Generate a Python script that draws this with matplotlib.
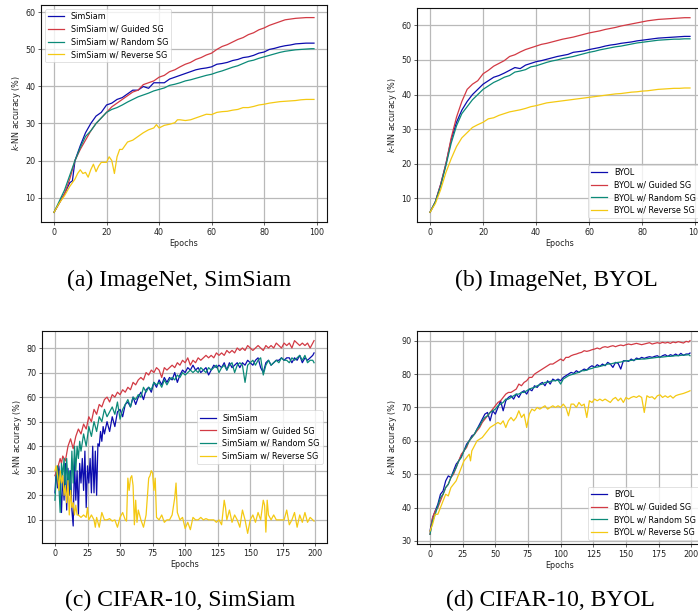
import matplotlib
matplotlib.use("Agg")
import matplotlib.pyplot as plt

# ---------------- data: (epoch, kNN accuracy %) ----------------
# (a) ImageNet, SimSiam
a_simsiam = [(0,6),(2,8.5),(4,11),(6,14),(7,14.5),(8,20),(10,24),(12,27.5),(14,30),(16,32),(18,33),(20,35),(22,35.5),(24,36.5),(26,37),(28,38),(30,39),(32,39),(34,40),(36,39.5),(38,41),(40,41),(42,41),(44,42),(46,42.5),(48,43),(50,43.5),(52,44),(54,44.5),(56,44.8),(58,45),(60,45.3),(62,46),(64,46.2),(66,46.5),(68,47),(70,47.3),(72,47.8),(74,48),(76,48.4),(78,49),(80,49.3),(82,50),(84,50.3),(86,50.7),(88,51),(90,51.2),(92,51.5),(94,51.6),(96,51.7),(98,51.7),(99,51.7)]
a_guided = [(0,6),(2,8.5),(4,11),(6,15),(8,20),(10,23),(12,25.5),(14,28),(16,30),(18,31.5),(20,33),(22,34.5),(24,35.5),(26,36.5),(28,37.5),(30,38.5),(32,39),(34,40.5),(36,41),(38,41.5),(40,42.5),(42,43),(44,44),(46,44.5),(48,45.3),(50,46),(52,46.5),(54,47.3),(56,47.8),(58,48.5),(60,49),(62,50),(64,50.8),(66,51.3),(68,52),(70,52.7),(72,53.2),(74,54),(76,54.5),(78,55.3),(80,55.8),(82,56.5),(84,57),(86,57.5),(88,58),(90,58.2),(92,58.4),(94,58.5),(96,58.6),(98,58.6),(99,58.6)]
a_random = [(0,6),(2,9),(4,12),(6,16),(8,20),(10,23.5),(12,26.5),(14,28),(16,30),(18,31.5),(20,33),(22,33.8),(24,34.3),(26,35),(28,35.8),(30,36.5),(32,37.2),(34,37.7),(36,38.2),(38,38.8),(40,39.2),(42,39.6),(44,40.3),(46,40.6),(48,41),(50,41.5),(52,41.8),(54,42.2),(56,42.6),(58,43),(60,43.3),(62,43.8),(64,44.2),(66,44.7),(68,45.2),(70,45.6),(72,46.2),(74,46.8),(76,47.1),(78,47.6),(80,48),(82,48.4),(84,48.8),(86,49.2),(88,49.5),(90,49.7),(92,49.9),(94,50),(96,50.1),(98,50.2),(99,50.2)]
a_reverse = [(0,6),(2,8.5),(4,10.5),(6,13),(8,15),(9,16.5),(10,17.5),(11,16.5),(12,16.8),(13,15.5),(14,17.5),(15,19),(16,17),(17,18.5),(18,19.5),(20,19.5),(21,21),(22,20),(23,16.5),(24,21),(25,23),(26,23),(28,25),(30,25.5),(32,26.5),(34,27.5),(36,28.3),(38,28.8),(39,29.7),(40,28.8),(42,29.5),(44,29.8),(46,30.2),(47,31),(48,31),(50,30.8),(52,31),(54,31.5),(56,32),(58,32.5),(60,32.4),(62,33),(64,33.2),(66,33.3),(68,33.6),(70,33.8),(72,34.3),(74,34.3),(76,34.6),(78,35),(80,35.2),(82,35.5),(84,35.7),(86,35.9),(88,36),(90,36.1),(92,36.2),(94,36.4),(96,36.5),(98,36.5),(99,36.5)]

# (b) ImageNet, BYOL
b_byol = [(0,6),(2,9),(4,14),(6,20),(8,27),(10,32),(12,35.5),(14,38),(16,40),(18,41.5),(20,43),(22,44),(24,45),(26,45.5),(28,46.2),(30,47),(32,47.8),(34,47.5),(36,48.5),(38,49),(40,49.5),(42,49.8),(44,50.2),(46,50.6),(48,51),(50,51.3),(52,51.6),(54,52.2),(56,52.4),(58,52.6),(60,53),(62,53.3),(64,53.6),(66,54),(68,54.3),(70,54.5),(72,54.8),(74,55),(76,55.2),(78,55.5),(80,55.7),(82,55.9),(84,56.1),(86,56.3),(88,56.4),(90,56.5),(92,56.6),(94,56.7),(96,56.8),(98,56.8)]
b_guided = [(0,6),(2,9),(4,14),(6,20),(8,27.5),(10,33.5),(12,38),(14,41.5),(16,43),(18,44),(20,46),(22,47),(24,48.2),(26,49),(28,49.8),(30,51),(32,51.5),(34,52.3),(36,53),(38,53.5),(40,54),(42,54.5),(44,54.8),(46,55.2),(48,55.6),(50,56),(52,56.3),(54,56.6),(56,57),(58,57.4),(60,57.8),(62,58.1),(64,58.4),(66,58.8),(68,59.1),(70,59.4),(72,59.8),(74,60.1),(76,60.4),(78,60.7),(80,61),(82,61.3),(84,61.5),(86,61.7),(88,61.8),(90,61.9),(92,62),(94,62.1),(96,62.2),(98,62.2)]
b_random = [(0,6),(2,9),(4,13.5),(6,19.5),(8,26),(10,31),(12,34.5),(14,36.5),(16,38.5),(18,40),(20,41.5),(22,42.5),(24,43.5),(26,44.2),(28,45),(30,45.5),(32,46.5),(34,46.8),(36,47.2),(38,48),(40,48.3),(42,48.8),(44,49.3),(46,49.7),(48,50),(50,50.4),(52,50.7),(54,51),(56,51.4),(58,51.8),(60,52.2),(62,52.5),(64,52.9),(66,53.2),(68,53.5),(70,53.8),(72,54),(74,54.3),(76,54.6),(78,54.9),(80,55.1),(82,55.3),(84,55.5),(86,55.7),(88,55.8),(90,55.9),(92,56),(94,56),(96,56.1),(98,56.1)]
b_reverse = [(0,6),(2,8.5),(4,12.5),(6,17.5),(8,21.5),(10,25),(12,27.5),(14,29),(16,30.5),(18,31.3),(20,32),(22,33),(24,33.3),(26,34),(28,34.5),(30,35),(32,35.3),(34,35.6),(36,36),(38,36.5),(40,36.8),(42,37.2),(44,37.6),(46,37.8),(48,38),(50,38.2),(52,38.4),(54,38.6),(56,38.8),(58,39),(60,39.2),(62,39.4),(64,39.6),(66,39.8),(68,40),(70,40.2),(72,40.3),(74,40.5),(76,40.7),(78,40.8),(80,41),(82,41.1),(84,41.3),(86,41.5),(88,41.6),(90,41.7),(92,41.8),(94,41.8),(96,41.9),(98,41.9)]

# (c) CIFAR-10, SimSiam
c_simsiam = [(0,21),(1,30),(2,23),(3,32),(4,25),(5,13),(6,28),(7,18),(8,33),(9,14),(10,31),(11,20),(12,30),(13,14),(14,7.5),(15,35),(16,18),(17,30),(18,12),(19,33),(20,25),(21,35),(22,22),(23,38),(24,15),(25,32),(26,25),(27,35),(28,21),(29,40),(30,21),(31,38),(32,20),(33,41),(34,40),(35,46),(36,42),(37,48),(38,45),(40,50),(42,46),(44,52),(46,48),(48,54),(50,55),(52,52),(54,57),(56,58),(58,56),(60,60),(62,57),(64,60),(66,62),(68,59),(70,63),(72,64),(74,62),(76,66),(78,64),(80,67),(82,65),(84,68),(86,66),(88,68),(90,67),(92,70),(94,66),(96,69),(98,71),(100,70),(102,72),(104,71),(106,73),(108,71),(110,72),(112,70),(114,71),(116,72),(118,69),(120,71),(122,73),(124,72),(126,73),(128,72),(130,74),(132,71),(134,74),(136,72),(138,73),(140,74),(142,72),(144,74),(146,73),(148,75),(150,74),(152,73),(154,75),(156,76),(158,72),(160,70),(162,74),(164,75),(166,73),(168,74),(170,75),(172,75),(174,76),(176,75),(178,76),(180,76),(182,74),(184,76),(186,75),(188,77),(190,74),(192,76),(194,75),(196,76),(198,77),(199,78)]
c_guided = [(0,28),(2,31),(4,35),(5,33),(6,36),(8,34),(10,40),(12,43),(14,39),(16,44),(18,47),(20,45),(22,49),(24,47),(26,52),(28,50),(30,55),(32,53),(34,57),(36,56),(38,59),(40,60),(42,58),(44,61),(46,60),(48,62),(50,61),(52,63),(54,62),(56,64),(58,63),(60,66),(62,65),(64,67),(66,68),(68,67),(70,70),(72,69),(74,71),(76,70),(78,72),(80,71),(82,68),(84,72),(86,71),(88,72),(90,73),(92,72),(94,74),(96,73),(98,75),(100,74),(102,76),(104,73),(106,75),(108,74),(110,76),(112,75),(114,76),(116,77),(118,76),(120,77),(122,76),(124,78),(126,77),(128,78),(130,77),(132,79),(134,78),(136,79),(138,78),(140,80),(142,79),(144,80),(146,79),(148,81),(150,80),(152,79),(154,80),(156,81),(158,80),(160,79),(162,81),(164,80),(166,81),(168,80),(170,82),(172,81),(174,80),(176,82),(178,81),(180,82),(182,80),(184,83),(186,82),(188,81),(190,82),(192,81),(194,82),(196,80),(198,82),(199,83)]
c_random = [(0,18),(1,28),(2,32),(3,24),(4,13),(5,33),(6,28),(7,35),(8,22),(9,35),(10,25),(11,30),(12,20),(13,38),(14,25),(15,40),(16,30),(17,40),(18,35),(19,42),(20,38),(22,45),(24,40),(26,48),(28,44),(30,50),(32,46),(34,52),(36,50),(38,55),(40,52),(42,54),(44,56),(46,53),(48,58),(50,51),(52,55),(54,57),(56,59),(58,56),(60,60),(62,59),(64,61),(66,60),(68,64),(70,62),(72,64),(74,63),(76,66),(78,65),(80,66),(82,64),(84,67),(86,65),(88,67),(90,68),(92,67),(94,69),(96,68),(98,70),(100,69),(102,70),(104,71),(106,70),(108,71),(110,70),(112,72),(114,71),(116,70),(118,72),(120,71),(122,72),(124,73),(126,70),(128,72),(130,73),(132,71),(134,73),(136,74),(138,70),(140,73),(142,74),(144,73),(146,66),(148,73),(150,74),(152,75),(154,73),(156,75),(158,76),(160,69),(162,73),(164,75),(166,73),(168,74),(170,75),(172,74),(174,76),(176,75),(178,75),(180,74),(182,76),(184,75),(186,76),(188,77),(190,75),(192,77),(194,74),(196,75),(198,75),(199,74)]
c_reverse = [(0,30),(1,32),(2,28),(3,22),(4,30),(5,25),(6,28),(7,20),(8,24),(9,17),(10,26),(11,12),(12,22),(13,15),(14,17),(15,12),(16,16),(17,12),(18,12),(20,11),(22,12),(24,11),(25,15),(26,10),(28,12),(30,10),(31,7),(32,11),(34,7),(36,13),(38,10),(40,10),(42,10.5),(44,9.5),(46,10),(48,7),(50,11),(52,13),(54,10),(55,9.5),(56,27),(57,22),(58,27),(59,28),(60,24),(61,8),(62,18),(63,9),(64,14),(66,10),(68,7),(70,12),(72,27),(73,28),(74,30),(75,29),(76,22),(77,27),(78,11),(80,10),(82,12),(84,9),(86,10),(88,10),(90,12),(92,19),(93,25),(94,13),(96,10),(98,11),(100,6.5),(102,9),(104,6),(106,11),(108,10),(110,10),(112,11),(114,10),(116,10.5),(118,10),(120,10),(122,10),(124,9),(126,10),(128,8),(130,18),(131,15),(132,10),(134,14),(136,9),(138,12),(140,10),(142,7),(144,14),(146,10),(148,4.5),(150,10),(152,12),(154,9),(156,13),(158,10),(160,18),(161,16),(162,5),(163,18),(164,12),(166,10),(168,12),(170,10),(172,10),(174,10),(176,10),(178,14),(180,8),(182,10),(184,13),(186,7),(188,12),(190,9),(192,13),(194,9),(196,11),(198,10),(199,9.5)]

# (d) CIFAR-10, BYOL
d_byol = [(0,33),(2,37),(4,39),(6,41),(8,44),(10,45),(12,48),(14,49.5),(16,49),(18,51),(20,53),(22,54),(24,55.5),(26,57),(28,59),(30,60),(32,61.5),(34,62),(36,63.5),(38,65),(40,66.5),(42,68),(44,68.5),(46,66),(48,69),(50,68),(52,70),(54,72),(56,69),(58,72),(60,73),(62,73.5),(64,72.5),(66,74),(68,73),(70,74.5),(72,75),(74,74),(76,75.5),(78,75),(80,76.5),(82,76),(84,77),(86,77.5),(88,76.5),(90,78),(92,77),(94,78.5),(96,78),(98,78.5),(100,78),(102,79),(104,79.5),(106,80),(108,80.5),(110,80.2),(112,81),(114,80.5),(116,81),(118,81.5),(120,81.2),(122,82),(124,82.5),(126,82),(128,82.8),(130,82.3),(132,83),(134,82.5),(136,83.5),(138,83),(140,82),(142,83.5),(144,83.2),(146,81.5),(148,84),(150,84),(152,83.8),(154,84.5),(156,84),(158,84.8),(160,84.5),(162,85),(164,84.7),(166,85),(168,85.2),(170,85),(172,85.3),(174,85.5),(176,85),(178,85.5),(180,85.8),(182,85.3),(184,85.8),(186,85.5),(188,86),(190,85.5),(192,86.2),(194,85.6),(196,86),(198,86),(199,86.3)]
d_guided = [(0,32),(2,37),(4,39),(6,40),(8,42),(10,44),(12,46),(14,47),(16,49),(18,50),(20,52),(22,54),(24,56),(26,57),(28,58),(30,60),(32,61),(34,62),(36,63),(38,64),(40,65.5),(42,66.5),(44,67.5),(46,68.5),(48,69.5),(50,70.5),(52,71.5),(54,72),(56,73),(58,74),(60,74.5),(62,74.5),(64,75),(66,75.5),(68,77),(70,76.5),(72,77.5),(74,78),(76,79),(78,79),(80,80),(82,80.5),(84,81),(86,81.5),(88,82),(90,82.5),(92,83),(94,83),(96,83.5),(98,84),(100,84.5),(102,84),(104,85),(106,85),(108,85.5),(110,85.8),(112,86),(114,86.3),(116,86.5),(118,87),(120,86.8),(122,87),(124,87.3),(126,87.5),(128,87.8),(130,87.5),(132,88),(134,88.2),(136,88),(138,88.3),(140,88.5),(142,88.2),(144,88.5),(146,88.7),(148,88.5),(150,88.8),(152,89),(154,88.8),(156,89),(158,89.2),(160,89),(162,88.8),(164,89),(166,89.2),(168,89.4),(170,89),(172,89.2),(174,89.4),(176,89.2),(178,89.5),(180,89.3),(182,89.5),(184,89.2),(186,89.6),(188,89.4),(190,89.7),(192,89.5),(194,89.3),(196,89.8),(198,89.6),(199,90)]
d_random = [(0,32),(2,36),(4,38),(6,40.5),(8,43),(10,44),(12,46),(14,47),(16,49),(18,50.5),(20,52),(22,54),(24,55),(26,57),(28,58.5),(30,60),(32,61),(34,62),(36,63.5),(38,64.5),(40,66),(42,67),(44,67.5),(46,68.5),(48,69),(50,69.5),(52,70.5),(54,71),(56,71.5),(58,72.5),(60,72.5),(62,73),(64,73.5),(66,74),(68,74),(70,74.5),(72,74.5),(74,75),(76,75.5),(78,75.8),(80,76),(82,76.5),(84,76.8),(86,77),(88,77.5),(90,77.5),(92,77.8),(94,78),(96,78),(98,78.2),(100,77),(102,78.5),(104,79),(106,79.5),(108,79.8),(110,80),(112,80.3),(114,80.5),(116,81),(118,81),(120,81.2),(122,81.5),(124,81.7),(126,82),(128,82.1),(130,82.3),(132,82.5),(134,82.7),(136,83),(138,83),(140,83.2),(142,83.4),(144,83.5),(146,83.6),(148,83.8),(150,84),(152,84),(154,84.1),(156,84.2),(158,84.4),(160,84.4),(162,84.5),(164,84.5),(166,84.6),(168,84.7),(170,84.8),(172,84.9),(174,85),(176,85.1),(178,85.1),(180,85.2),(182,85.3),(184,85.3),(186,85.4),(188,85.5),(190,85.5),(192,85.6),(194,85.7),(196,85.7),(198,85.8),(199,85.5)]
d_reverse = [(0,33),(2,35),(4,38),(6,38),(8,40),(10,42),(12,44),(14,43.5),(16,46),(18,47),(20,48),(22,50),(24,52),(26,54),(28,55),(30,56),(31,54),(32,57),(34,58.5),(36,60),(38,60.5),(40,61),(42,62),(44,63),(46,64),(48,64.5),(50,65),(52,65.5),(54,65),(56,66),(58,64),(60,66),(62,67),(64,66),(66,67),(68,69),(70,67),(72,68),(74,64),(76,68),(78,69.5),(80,69),(82,70),(84,69.5),(86,70),(88,70.5),(90,69.5),(92,70),(94,70.5),(96,70),(98,70.5),(100,70),(102,71),(104,70),(106,67.5),(108,71),(110,71),(112,70),(114,71.5),(116,70.5),(118,71),(120,67),(122,72),(124,71.5),(126,72.5),(128,72),(130,72.5),(132,72),(134,72.5),(136,72),(138,71.5),(140,72.5),(142,73),(144,72),(146,72.8),(148,71.5),(150,73),(152,72.5),(154,73),(156,73.3),(158,73),(160,73.5),(162,73),(164,68.5),(166,73.5),(168,73),(170,73.2),(172,72.5),(174,73.5),(176,73.8),(178,73),(180,73.5),(182,73),(184,73.5),(186,72.8),(188,73.5),(190,73.8),(192,74),(194,74.2),(196,74.5),(198,74.8),(199,75)]

simsiam_labels = ["SimSiam", "SimSiam w/ Guided SG", "SimSiam w/ Random SG", "SimSiam w/ Reverse SG"]
byol_labels = ["BYOL", "BYOL w/ Guided SG", "BYOL w/ Random SG", "BYOL w/ Reverse SG"]
captions = ["(a) ImageNet, SimSiam", "(b) ImageNet, BYOL", "(c) CIFAR-10, SimSiam", "(d) CIFAR-10, BYOL"]

# ---------------- style ----------------
COLORS = ["#0c0cae", "#d23a44", "#0b8a78", "#f4c913"]
FS = 5.8
W, H = 698, 613

fig = plt.figure(figsize=(W / 100, H / 100), dpi=100)


def px_axes(left, top, right, bottom):
    return fig.add_axes([left / W, 1 - bottom / H, (right - left) / W, (bottom - top) / H])


def draw(ax, series, labels, loc, xticks, ylim=None):
    for s, lab, col in zip(series, labels, COLORS):
        xs = [p[0] for p in s]
        ys = [p[1] for p in s]
        ax.plot(xs, ys, color=col, lw=0.9, label=lab)
    ax.grid(True, color="#b9b9b9", lw=0.9)
    ax.set_axisbelow(True)
    ax.set_xticks(xticks)
    if ylim is not None:
        ax.set_ylim(*ylim)
    ax.tick_params(labelsize=FS, length=2, width=0.5, pad=2, colors="#222222")
    for sp in ax.spines.values():
        sp.set_linewidth(0.8)
        sp.set_color("#111111")
    ax.set_xlabel("Epochs", fontsize=FS, labelpad=1.5, color="#222222")
    ax.set_ylabel("$k$-NN accuracy (%)", fontsize=FS, labelpad=2, color="#222222")
    leg = ax.legend(loc=loc, fontsize=FS, handlelength=2.0, borderpad=0.4,
                    labelspacing=0.45, framealpha=0.8, fancybox=True)
    leg.get_frame().set_linewidth(0.5)


ax_a = px_axes(41, 5, 327, 222)
draw(ax_a, [a_simsiam, a_guided, a_random, a_reverse], simsiam_labels, "upper left",
     [0, 20, 40, 60, 80, 100], ylim=(3.4, 62.0))

ax_b = px_axes(417, 8, 703, 222)
draw(ax_b, [b_byol, b_guided, b_random, b_reverse], byol_labels, "lower right",
     [0, 20, 40, 60, 80, 100], ylim=(3.2, 65.0))

ax_c = px_axes(42, 331, 327, 543)
draw(ax_c, [c_simsiam, c_guided, c_random, c_reverse], simsiam_labels, "center right",
     [0, 25, 50, 75, 100, 125, 150, 175, 200])

ax_d = px_axes(417, 331, 703, 544)
draw(ax_d, [d_byol, d_guided, d_random, d_reverse], byol_labels, "lower right",
     [0, 25, 50, 75, 100, 125, 150, 175, 200])

cap_pos = [(179, 280), (556, 280), (180, 600), (550, 600)]
for (cx, cy), txt in zip(cap_pos, captions):
    fig.text(cx / W, 1 - cy / H, txt, ha="center", va="center",
             fontsize=17, family=["Liberation Serif", "DejaVu Serif"])

fig.savefig("out.png", dpi=100)
